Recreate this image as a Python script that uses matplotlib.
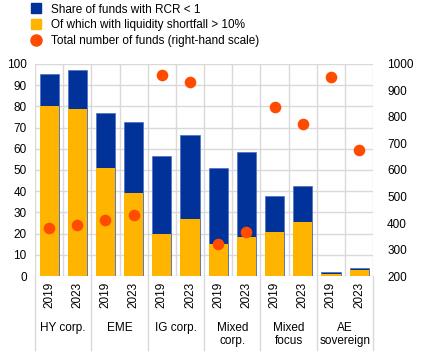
import numpy as np
import matplotlib.pyplot as plt
from matplotlib.lines import Line2D
from matplotlib.transforms import blended_transform_factory

plt.rcParams['font.family'] = ['Liberation Sans', 'DejaVu Sans']

# data
groups = ["HY corp.", "EME", "IG corp.", "Mixed\ncorp.", "Mixed\nfocus", "AE\nsovereign"]
years = ["2019", "2023"]
share_rcr = [95.4, 97.0, 76.8, 72.4, 56.7, 66.6, 50.9, 58.7, 37.8, 42.5, 1.9, 3.6]
shortfall = [80.3, 78.7, 50.9, 39.0, 19.7, 26.9, 15.1, 18.3, 20.9, 25.4, 1.0, 2.8]
n_funds = [382, 393, 412, 429, 958, 931, 320, 366, 837, 774, 950, 675]

blue = "#003299"
yellow = "#ffb400"
orange = "#ff4b00"
grid = "#d9d9d9"

fig = plt.figure(figsize=(4.27, 3.53), dpi=100)
ax = fig.add_axes([0.082, 0.218, 0.792, 0.601])
ax2 = ax.twinx()

x = np.arange(len(share_rcr))
ax.bar(x, share_rcr, width=0.68, color=blue, edgecolor="#4a6fc0", linewidth=0.5, zorder=2)
ax.bar(x, shortfall, width=0.68, color=yellow, zorder=3)
ax2.scatter(x, n_funds, s=70, color=orange, zorder=4, linewidths=0)

ax.set_xlim(-0.5, len(x) - 0.5)
ax.set_ylim(0, 100)
ax2.set_ylim(200, 1000)
ax.set_yticks(np.arange(0, 101, 10))
ax2.set_yticks(np.arange(200, 1001, 100))
ax.set_xticks(x)
ax.set_xticklabels(years * len(groups), rotation=90, fontsize=8.5)
ax.tick_params(axis="x", length=0, pad=4)
ax.tick_params(axis="y", length=0, labelsize=8.5, pad=6)
ax2.tick_params(axis="y", length=0, labelsize=8.5, pad=10)

for a in (ax, ax2):
    for s in a.spines.values():
        s.set_visible(False)

ax.set_axisbelow(True)
ax.yaxis.grid(True, color=grid, linewidth=1)
for b in np.arange(-0.5, len(x), 1.0):
    ax.axvline(b, color=grid, linewidth=1, zorder=1)

tr = blended_transform_factory(ax.transData, ax.transAxes)
for i, g in enumerate(groups):
    ax.text(2 * i + 0.5, -0.215, g, transform=tr, ha="center", va="top",
            fontsize=8.5, linespacing=1.15)
for b in np.arange(-0.5, len(x), 2.0):
    ax.plot([b, b], [0, -0.35], transform=tr, color=grid, linewidth=1, clip_on=False)

handles = [
    Line2D([], [], marker="s", linestyle="", color=blue, markersize=7),
    Line2D([], [], marker="s", linestyle="", color=yellow, markersize=7),
    Line2D([], [], marker="o", linestyle="", color=orange, markersize=8),
]
labels = ["Share of funds with RCR < 1", "Of which with liquidity shortfall > 10%",
          "Total number of funds (right-hand scale)"]
fig.legend(handles, labels, loc="upper left", bbox_to_anchor=(0.045, 1.02),
           frameon=False, fontsize=8.5, handletextpad=0.8, labelspacing=0.3,
           handlelength=1.0)

fig.savefig("out.png", dpi=100)
